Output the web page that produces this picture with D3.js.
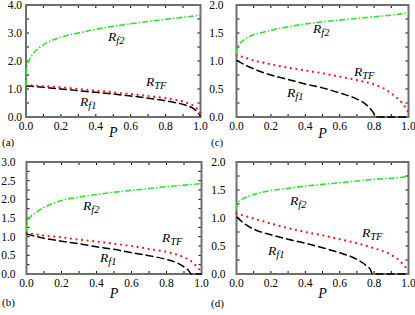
<!DOCTYPE html>
<meta charset="utf-8">
<style>
body { margin: 0; background: #fff; }
svg text { font-family: "Liberation Serif", Tinos, "Times New Roman", "DejaVu Serif", serif; fill: #000; }
.frame { fill: none; stroke: #6e6e6e; stroke-width: 2px; }
.tick { stroke: #000; stroke-width: 1px; }
.rf2 { fill: none; stroke: #2ce62c; stroke-width: 1.6px; stroke-dasharray: 6 2 1.5 2; }
.rtf { fill: none; stroke: #ff1a1a; stroke-width: 2.3px; stroke-dasharray: 0 5.6; stroke-linecap: round; }
.rf1 { fill: none; stroke: #000; stroke-width: 1.5px; stroke-dasharray: 8 3; }
</style>
<svg font-family="Liberation Serif, serif"></svg>
<script src="https://cdn.jsdelivr.net/npm/d3@7"></script>
<script>

var width = 415,
    height = 315;

// P grids
var pRf2 = [0, 0.002, 0.01, 0.02, 0.04, 0.07, 0.1, 0.15, 0.2, 0.3, 0.4, 0.5, 0.6, 0.7, 0.8, 0.9, 1.0];
var pRtf = [0, 0.1, 0.2, 0.3, 0.4, 0.5, 0.6, 0.7, 0.8, 0.85, 0.9, 0.93, 0.96, 0.98, 0.99, 1.0];

// panel (a)
var rf2A = [1.1, 1.6, 1.9, 2.05, 2.25, 2.45, 2.58, 2.74, 2.85, 3.0, 3.13, 3.24, 3.33, 3.41, 3.49, 3.56, 3.64];
var rtfA = [1.14, 1.10, 1.06, 1.0, 0.94, 0.88, 0.82, 0.75, 0.67, 0.62, 0.55, 0.49, 0.4, 0.3, 0.22, 0.12];
var pRf1A = [0, 0.1, 0.2, 0.3, 0.4, 0.5, 0.6, 0.7, 0.8, 0.85, 0.9, 0.93, 0.96, 0.98, 0.99, 1.0];
var rf1A = [1.11, 1.06, 1.0, 0.94, 0.88, 0.82, 0.75, 0.67, 0.58, 0.52, 0.45, 0.39, 0.3, 0.2, 0.12, 0.02];

// panel (b)
var rf2B = [1.15, 1.35, 1.45, 1.52, 1.6, 1.7, 1.78, 1.89, 1.97, 2.06, 2.13, 2.19, 2.24, 2.29, 2.34, 2.38, 2.42];
var rtfB = [1.1, 1.03, 0.98, 0.92, 0.87, 0.81, 0.75, 0.67, 0.59, 0.53, 0.45, 0.38, 0.26, 0.16, 0.11, 0.06];
var pRf1B = [0, 0.1, 0.2, 0.3, 0.4, 0.5, 0.6, 0.7, 0.8, 0.85, 0.9, 0.93, 0.94, 1.0];
var rf1B = [1.07, 0.96, 0.88, 0.81, 0.73, 0.66, 0.57, 0.49, 0.39, 0.32, 0.19, 0.07, 0, 0];

// panel (c)
var rf2C = [1.12, 1.2, 1.26, 1.31, 1.37, 1.43, 1.47, 1.51, 1.55, 1.61, 1.66, 1.7, 1.73, 1.76, 1.79, 1.82, 1.86];
var rtfC = [1.11, 1.01, 0.94, 0.88, 0.83, 0.78, 0.72, 0.66, 0.58, 0.52, 0.42, 0.35, 0.26, 0.18, 0.13, 0.08];
var pRf1C = [0, 0.05, 0.1, 0.2, 0.3, 0.4, 0.5, 0.6, 0.7, 0.75, 0.78, 0.8, 0.81, 1.0];
var rf1C = [1.01, 0.93, 0.86, 0.75, 0.67, 0.59, 0.52, 0.43, 0.32, 0.23, 0.14, 0.06, 0, 0];

// panel (d)
var rf2D = [1.15, 1.22, 1.27, 1.31, 1.35, 1.39, 1.42, 1.46, 1.49, 1.53, 1.57, 1.6, 1.63, 1.66, 1.69, 1.71, 1.74];
var rtfD = [1.08, 0.99, 0.9, 0.82, 0.75, 0.69, 0.62, 0.55, 0.46, 0.41, 0.34, 0.28, 0.2, 0.13, 0.1, 0.06];
var pRf1D = [0, 0.05, 0.1, 0.2, 0.3, 0.4, 0.5, 0.6, 0.65, 0.7, 0.75, 0.78, 0.79, 1.0];
var rf1D = [1.02, 0.89, 0.8, 0.7, 0.62, 0.55, 0.47, 0.38, 0.33, 0.26, 0.16, 0.07, 0, 0];

var xTickLabels = [0, 0.2, 0.4, 0.6, 0.8, 1.0];

var panels = [
  { tag: "(a)", rf2: rf2A, rtf: rtfA, pRf1: pRf1A, rf1: rf1A, yMax: 4, yStep: 1, yMinor: 0.5,
    box: [26, 200.5, 5, 117], yLabGap: 4, pBase: 20, tagBase: 146,
    lab: { f2: [108, 41], tf: [146, 86], f1: [80, 106] } },
  { tag: "(c)", rf2: rf2C, rtf: rtfC, pRf1: pRf1C, rf1: rf1C, yMax: 2, yStep: 0.5, yMinor: 0.25,
    box: [236.5, 408.5, 5, 117], yLabGap: 13, pBase: 21, tagBase: 146,
    lab: { f2: [313, 33], tf: [354, 76], f1: [287, 97] } },
  { tag: "(b)", rf2: rf2B, rtf: rtfB, pRf1: pRf1B, rf1: rf1B, yMax: 3, yStep: 0.5, yMinor: 0.25,
    box: [26.5, 201.5, 162, 274], yLabGap: 11, pBase: 24, tagBase: 306,
    lab: { f2: [83, 210], tf: [162, 242], f1: [100, 262] } },
  { tag: "(d)", rf2: rf2D, rtf: rtfD, pRf1: pRf1D, rf1: rf1D, yMax: 2, yStep: 0.5, yMinor: 0.25,
    box: [236.5, 408.5, 162, 274], yLabGap: 11, pBase: 24, tagBase: 307,
    lab: { f2: [290, 205], tf: [362, 237], f1: [268, 255] } }
];

var serif = "'Liberation Serif', Tinos, 'Times New Roman', 'DejaVu Serif', serif";

var svg = d3.select("svg")
    .attr("width", width)
    .attr("height", height);

panels.forEach(function(p) {
  var x0 = p.box[0], x1 = p.box[1], y0 = p.box[2], y1 = p.box[3];
  var x = d3.scaleLinear().domain([0, 1]).range([x0, x1]);
  var y = d3.scaleLinear().domain([0, p.yMax]).range([y1, y0]);
  var g = svg.append("g").style("font-family", serif);

  // ticks, inward on all four sides
  var xt = d3.range(0, 1.0001, 0.1);
  var yt = d3.range(0, p.yMax + 0.0001, p.yMinor);
  xt.forEach(function(v) {
    g.append("line").attr("class", "tick")
      .attr("x1", x(v)).attr("x2", x(v)).attr("y1", y1).attr("y2", y1 - 3);
    g.append("line").attr("class", "tick")
      .attr("x1", x(v)).attr("x2", x(v)).attr("y1", y0).attr("y2", y0 + 3);
  });
  yt.forEach(function(v) {
    g.append("line").attr("class", "tick")
      .attr("x1", x0).attr("x2", x0 + 3).attr("y1", y(v)).attr("y2", y(v));
    g.append("line").attr("class", "tick")
      .attr("x1", x1).attr("x2", x1 - 3).attr("y1", y(v)).attr("y2", y(v));
  });

  g.append("rect").attr("class", "frame")
    .attr("x", x0).attr("y", y0).attr("width", x1 - x0).attr("height", y1 - y0);

  // tick labels
  g.selectAll(".xl").data(xTickLabels).enter().append("text")
    .attr("x", function(d) { return x(d); })
    .attr("y", y1 + 13)
    .attr("text-anchor", "middle")
    .style("font-family", serif)
    .style("font-size", "11.5px")
    .text(function(d) { return d3.format(".1f")(d); });

  g.selectAll(".yl").data(d3.range(0, p.yMax + 0.0001, p.yStep)).enter().append("text")
    .attr("x", x0 - p.yLabGap)
    .attr("y", function(d) { return y(d); })
    .attr("dy", "0.35em")
    .attr("text-anchor", "end")
    .style("font-family", serif)
    .style("font-size", "11.5px")
    .text(function(d) { return d3.format(".1f")(d); });

  // curves
  var line = d3.line()
    .x(function(d) { return x(d[0]); })
    .y(function(d) { return y(d[1]); })
    .curve(d3.curveMonotoneX);

  g.append("path").attr("class", "rf1")
    .attr("d", line(d3.zip(p.pRf1, p.rf1)));
  g.append("path").attr("class", "rtf")
    .attr("d", line(d3.zip(pRtf, p.rtf)));
  g.append("path").attr("class", "rf2")
    .attr("d", line(d3.zip(pRf2, p.rf2)));

  // curve labels
  function rlabel(pos, sub) {
    var t = g.append("text")
      .attr("x", pos[0]).attr("y", pos[1])
      .style("font-family", serif)
      .style("font-style", "italic")
      .style("font-size", "13.5px");
    t.append("tspan").text("R");
    t.append("tspan").attr("dy", 3).style("font-size", "10.5px").text(sub);
  }
  rlabel(p.lab.f2, "f2");
  rlabel(p.lab.tf, "TF");
  rlabel(p.lab.f1, "f1");

  g.append("text")
    .attr("x", (x0 + x1) / 2)
    .attr("y", y1 + p.pBase)
    .attr("text-anchor", "middle")
    .style("font-family", serif)
    .style("font-style", "italic")
    .style("font-size", "14px")
    .text("P");

  g.append("text")
    .attr("x", x0 < 100 ? 2 : 211)
    .attr("y", p.tagBase)
    .style("font-family", serif)
    .style("font-size", "11px")
    .text(p.tag);
});

</script>
